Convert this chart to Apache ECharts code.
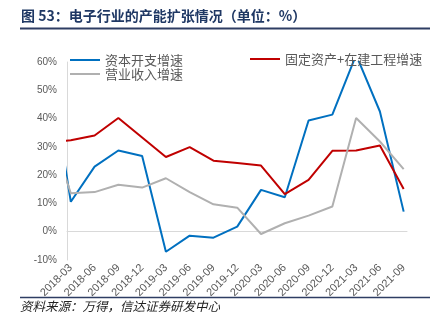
<!DOCTYPE html>
<html>
<head>
<meta charset="utf-8">
<script src="https://cdn.jsdelivr.net/npm/echarts@6/dist/echarts.min.js"></script>
<style>
html,body{margin:0;padding:0;background:#fff;}
#chart{width:445px;height:331px;}
</style>
</head>
<body>
<div id="chart"></div>
<script>
// Quarter labels; the first one (2017-12) lies just left of the plot and is clipped
const categories = ['2017-12','2018-03','2018-06','2018-09','2018-12','2019-03','2019-06','2019-09','2019-12',
  '2020-03','2020-06','2020-09','2020-12','2021-03','2021-06','2021-09'];
const capexGrowth = [63.2, 10.6, 23.0, 28.7, 26.8, -7.1, -1.4, -2.1, 1.8, 14.8, 12.2, 39.3, 41.4, 62.5, 42.5, 7.1];
const fixedAssetGrowth = [31.5, 32.3, 34.0, 40.2, 33.3, 26.4, 29.9, 25.1, 24.3, 23.4, 13.3, 18.3, 28.6, 28.7, 30.5, 15.1];
const revenueGrowth = [39.0, 13.6, 14.0, 16.6, 15.6, 18.9, 14.0, 9.7, 8.5, -0.8, 3.0, 5.7, 8.9, 40.2, 31.9, 22.1];
const seriesNames = ['资本开支增速', '固定资产+在建工程增速', '营业收入增速'];
const yTicks = [-10, 0, 10, 20, 30, 40, 50, 60];

const toPoints = arr => arr.map((v, i) => [i - 1, v]);
const tickIdx = categories.slice(1).map((c, i) => i);

const chart = echarts.init(document.getElementById('chart'));
const cjk = 'Noto Sans CJK SC';
chart.setOption({
  animation: false,
  backgroundColor: '#fff',
  title: [
    { text: '图 53：电子行业的产能扩张情况（单位：%）', left: 21, top: 9, padding: 0,
      textStyle: { fontSize: 14, fontWeight: 'bold', color: '#1F3864', fontFamily: cjk } },
    { text: '资料来源：万得，信达证券研发中心', left: 20, top: 300, padding: 0,
      textStyle: { fontSize: 12.5, fontWeight: 'normal', fontStyle: 'italic', color: '#222', fontFamily: cjk } }
  ],
  graphic: [
    { type: 'line', shape: { x1: 20, y1: 28.5, x2: 430, y2: 28.5 }, style: { stroke: '#2E3D63', lineWidth: 2 } },
    { type: 'line', shape: { x1: 20, y1: 297.5, x2: 430, y2: 297.5 }, style: { stroke: '#2E3D63', lineWidth: 1.5 } }
  ],
  legend: [
    { data: [seriesNames[0]], left: 70, top: 53, padding: 0, icon: 'rect', itemWidth: 30, itemHeight: 2,
      textStyle: { fontSize: 13, color: '#595959', fontFamily: cjk, lineHeight: 14 } },
    { data: [seriesNames[2]], left: 70, top: 67, padding: 0, icon: 'rect', itemWidth: 30, itemHeight: 2,
      textStyle: { fontSize: 13, color: '#595959', fontFamily: cjk, lineHeight: 14 } },
    { data: [seriesNames[1]], left: 250, top: 52, padding: 0, icon: 'rect', itemWidth: 30, itemHeight: 2,
      textStyle: { fontSize: 13, color: '#595959', fontFamily: cjk, lineHeight: 14 } }
  ],
  grid: { left: 67, right: 38, top: 62, bottom: 71, containLabel: false },
  xAxis: {
    type: 'value', min: -0.16, max: 14.14,
    axisLine: { show: true, onZero: true, lineStyle: { color: '#d9d9d9', width: 1 } },
    axisTick: { show: false },
    splitLine: { show: false },
    axisLabel: {
      customValues: tickIdx, rotate: 45, fontSize: 11, color: '#595959', margin: 6,
      fontFamily: 'Liberation Sans',
      formatter: v => categories[Math.round(v) + 1]
    }
  },
  yAxis: {
    type: 'value', min: yTicks[0], max: yTicks[yTicks.length - 1], interval: 10,
    axisLine: { show: true, onZero: false, lineStyle: { color: '#d9d9d9', width: 1 } },
    axisTick: { show: false },
    splitLine: { show: false },
    axisLabel: { formatter: '{value}%', fontSize: 10, color: '#595959', margin: 10, fontFamily: 'Liberation Sans' }
  },
  series: [
    { name: seriesNames[0], type: 'line', data: toPoints(capexGrowth), symbol: 'none', clip: true,
      lineStyle: { color: '#0070C0', width: 2 }, itemStyle: { color: '#0070C0' } },
    { name: seriesNames[1], type: 'line', data: toPoints(fixedAssetGrowth), symbol: 'none', clip: true,
      lineStyle: { color: '#C00000', width: 2 }, itemStyle: { color: '#C00000' } },
    { name: seriesNames[2], type: 'line', data: toPoints(revenueGrowth), symbol: 'none', clip: true,
      lineStyle: { color: '#B0B0B0', width: 2 }, itemStyle: { color: '#B0B0B0' } }
  ]
});
</script>
</body>
</html>
